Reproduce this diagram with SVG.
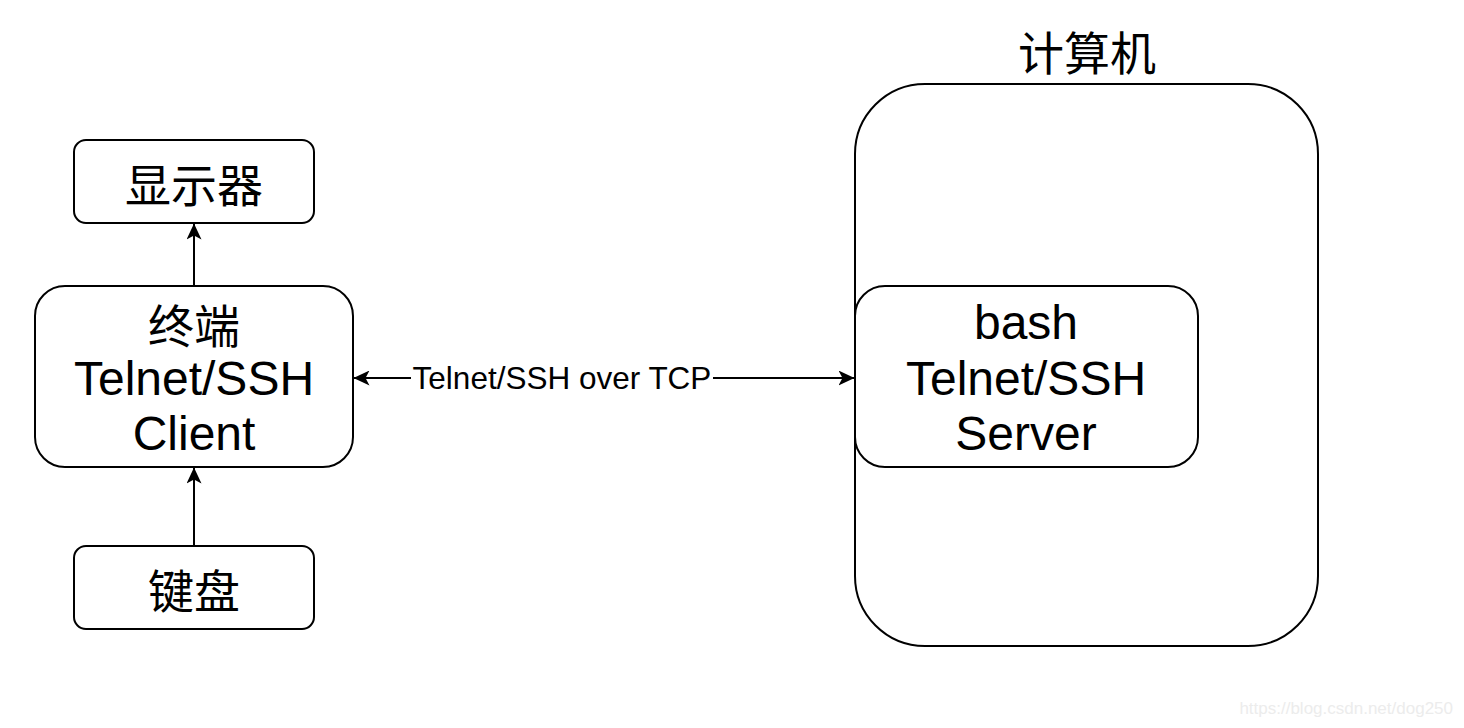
<svg xmlns="http://www.w3.org/2000/svg" width="1464" height="728" viewBox="0 0 1464 728">
<defs>
<marker id="arr" viewBox="0 0 16 15" refX="15.5" refY="7.5" markerWidth="16" markerHeight="15" markerUnits="userSpaceOnUse" orient="auto-start-reverse">
<path d="M0,0 L16,7.5 L0,15 L4,7.5 Z" fill="#000"/>
</marker>
</defs>
<style>
.box{fill:#fff;stroke:#000;stroke-width:2}
.t{font-family:"Liberation Sans","Noto Sans CJK SC",Arial,sans-serif;font-size:48px;fill:#000;text-anchor:middle}
.c{font-family:"Noto Sans CJK SC","Liberation Sans",sans-serif;font-size:46px;fill:#000;text-anchor:middle;dominant-baseline:central}
.lbl{font-family:"Liberation Sans",Arial,sans-serif;font-size:31.5px;fill:#000;text-anchor:middle}
.ln{stroke:#000;stroke-width:2;fill:none}
</style>
<rect width="1464" height="728" fill="#fff"/>
<g id="computer">
<rect class="box" x="855" y="84" width="463" height="562" rx="70" ry="70"/>
<text class="c" x="1087" y="50">计算机</text>
</g>
<g id="server">
<rect class="box" x="855" y="286" width="343" height="181" rx="30" ry="30"/>
<text class="t" x="1026" y="339">bash</text>
<text class="t" x="1026" y="395">Telnet/SSH</text>
<text class="t" x="1026" y="450">Server</text>
</g>
<g id="display">
<rect class="box" x="74" y="140" width="240" height="83" rx="12" ry="12"/>
<text class="c" x="194" y="182">显示器</text>
</g>
<g id="terminal">
<rect class="box" x="35" y="286" width="318" height="181" rx="30" ry="30"/>
<text class="c" x="194" y="323">终端</text>
<text class="t" x="194" y="395">Telnet/SSH</text>
<text class="t" x="194" y="450">Client</text>
</g>
<g id="keyboard">
<rect class="box" x="74" y="546" width="240" height="83" rx="12" ry="12"/>
<text class="c" x="194" y="588">键盘</text>
</g>
<g id="connectors">
<line class="ln" x1="194" y1="286" x2="194" y2="224" marker-end="url(#arr)"/>
<line class="ln" x1="194" y1="546" x2="194" y2="468" marker-end="url(#arr)"/>
<line class="ln" x1="354" y1="378" x2="854" y2="378" marker-start="url(#arr)" marker-end="url(#arr)"/>
<rect x="411" y="362" width="302" height="32" fill="#fff"/>
<text class="lbl" x="562" y="389">Telnet/SSH over TCP</text>
</g>
<text x="1453" y="714" font-family="Liberation Sans,Arial,sans-serif" font-size="17" fill="#ececec" text-anchor="end">https://blog.csdn.net/dog250</text>
</svg>
